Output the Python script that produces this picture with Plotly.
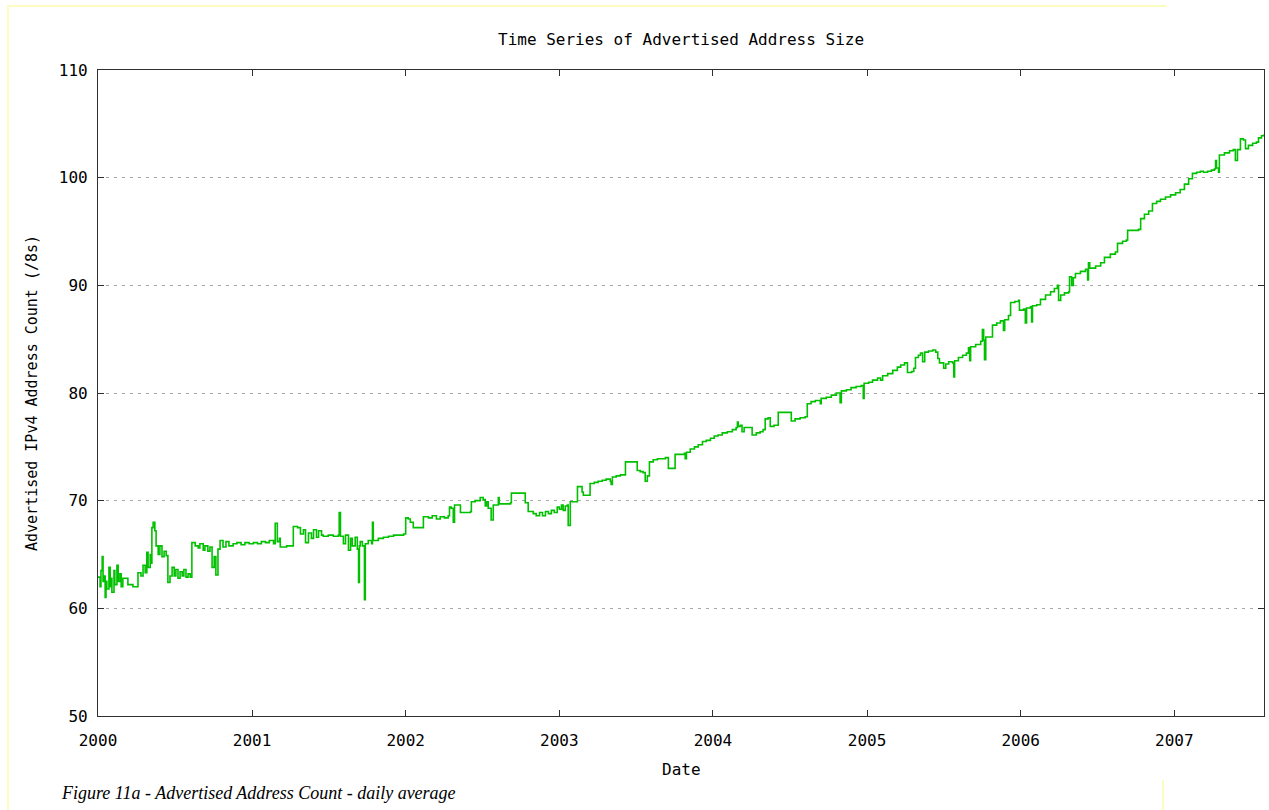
import plotly.graph_objects as go

# Daily average of advertised IPv4 address space, in units of /8 blocks
dates_2000 = ["2000-01-01", "2000-01-06", "2000-01-08", "2000-01-11", "2000-01-13", "2000-01-15",
              "2000-01-18", "2000-01-20", "2000-01-22", "2000-01-27", "2000-01-30", "2000-02-01",
              "2000-02-03", "2000-02-08", "2000-02-10", "2000-02-15", "2000-02-18", "2000-02-22",
              "2000-02-25", "2000-02-29", "2000-03-12", "2000-03-24", "2000-04-05", "2000-04-12",
              "2000-04-17", "2000-04-22", "2000-04-26", "2000-04-29", "2000-05-04", "2000-05-06",
              "2000-05-08", "2000-05-11", "2000-05-15", "2000-05-18", "2000-05-23", "2000-05-27",
              "2000-06-01", "2000-06-06", "2000-06-11", "2000-06-15", "2000-06-20", "2000-06-25",
              "2000-06-30", "2000-07-04", "2000-07-09", "2000-07-14", "2000-07-19", "2000-07-23",
              "2000-07-28", "2000-08-02", "2000-08-07", "2000-08-11", "2000-08-19", "2000-08-26",
              "2000-08-30", "2000-09-07", "2000-09-11", "2000-09-18", "2000-09-23", "2000-09-28",
              "2000-10-03", "2000-10-07", "2000-10-12", "2000-10-17", "2000-10-24", "2000-10-31",
              "2000-11-07", "2000-11-17", "2000-11-26", "2000-12-06", "2000-12-15", "2000-12-25"]
count_2000 = [62.9, 62.0, 63.5, 64.8, 62.5, 63.0,
              61.0, 62.5, 61.8, 63.8, 62.0, 62.8,
              61.5, 63.5, 62.2, 64.0, 62.5, 63.2,
              62.0, 62.8, 62.2, 62.0, 63.3, 63.0,
              64.0, 63.3, 65.2, 63.8, 65.0, 64.2,
              67.5, 68.0, 67.2, 65.8, 65.0, 65.8,
              64.8, 65.3, 64.9, 62.4, 63.0, 63.8,
              63.0, 63.6, 62.8, 63.4, 63.0, 63.6,
              62.9, 63.2, 62.9, 66.1, 65.8, 65.6,
              66.0, 65.4, 65.8, 65.3, 65.7, 63.8,
              64.8, 63.1, 65.5, 66.3, 65.7, 66.2,
              65.8, 66.0, 66.1, 65.9, 66.1, 66.0]

dates_2001 = ["2001-01-04", "2001-01-14", "2001-01-23", "2001-02-02", "2001-02-11", "2001-02-21",
              "2001-02-25", "2001-03-02", "2001-03-07", "2001-03-09", "2001-03-24", "2001-04-04",
              "2001-04-09", "2001-04-19", "2001-04-26", "2001-05-03", "2001-05-08", "2001-05-15",
              "2001-05-22", "2001-05-27", "2001-06-03", "2001-06-08", "2001-06-15", "2001-06-19",
              "2001-07-01", "2001-07-13", "2001-07-25", "2001-07-27", "2001-07-30", "2001-08-06",
              "2001-08-11", "2001-08-18", "2001-08-23", "2001-08-27", "2001-09-03", "2001-09-08",
              "2001-09-11", "2001-09-13", "2001-09-15", "2001-09-20", "2001-09-25", "2001-09-27",
              "2001-10-04", "2001-10-12", "2001-10-14", "2001-10-16", "2001-10-28", "2001-11-09",
              "2001-11-21", "2001-12-03", "2001-12-15", "2001-12-27"]
count_2001 = [66.1, 66.0, 66.2, 66.1, 66.3, 66.0,
              67.9, 66.2, 66.5, 65.7, 65.8, 65.8,
              67.6, 67.5, 66.9, 67.3, 66.1, 67.0,
              66.5, 67.3, 66.6, 67.2, 66.8, 66.7,
              66.8, 66.7, 66.8, 68.9, 66.7, 66.0,
              66.8, 65.4, 66.5, 65.8, 66.6, 65.5,
              62.4, 65.8, 66.2, 65.8, 60.8, 66.0,
              66.3, 66.0, 68.0, 66.3, 66.5, 66.6,
              66.7, 66.8, 66.8, 66.9]

dates_2002 = ["2002-01-01", "2002-01-07", "2002-01-12", "2002-01-19", "2002-01-26", "2002-02-05",
              "2002-02-12", "2002-02-24", "2002-03-05", "2002-03-15", "2002-03-24", "2002-04-03",
              "2002-04-12", "2002-04-15", "2002-04-19", "2002-04-24", "2002-04-27", "2002-05-06",
              "2002-05-11", "2002-05-23", "2002-06-04", "2002-06-06", "2002-06-15", "2002-06-27",
              "2002-07-04", "2002-07-09", "2002-07-12", "2002-07-16", "2002-07-23", "2002-07-28",
              "2002-08-09", "2002-08-11", "2002-08-23", "2002-09-07", "2002-09-09", "2002-09-21",
              "2002-10-03", "2002-10-12", "2002-10-19", "2002-10-31", "2002-11-07", "2002-11-15",
              "2002-11-22", "2002-11-29", "2002-12-06", "2002-12-13", "2002-12-20", "2002-12-27"]
count_2002 = [68.4, 68.3, 68.0, 67.5, 67.5, 67.5,
              68.5, 68.4, 68.6, 68.3, 68.5, 68.4,
              68.6, 69.4, 69.3, 68.0, 69.6, 69.6,
              68.9, 68.9, 69.0, 69.9, 70.0, 70.3,
              70.1, 69.5, 69.9, 69.3, 68.2, 69.6,
              70.3, 69.7, 69.7, 69.8, 70.7, 70.7,
              70.7, 69.8, 69.0, 68.8, 68.6, 68.9,
              68.6, 69.0, 68.8, 69.1, 68.9, 69.4]

dates_2003 = ["2003-01-01", "2003-01-06", "2003-01-10", "2003-01-15", "2003-01-20", "2003-01-22",
              "2003-01-27", "2003-02-03", "2003-02-13", "2003-02-20", "2003-02-24", "2003-02-27",
              "2003-03-11", "2003-03-15", "2003-03-25", "2003-04-03", "2003-04-13", "2003-04-22",
              "2003-05-02", "2003-05-04", "2003-05-07", "2003-05-16", "2003-05-26", "2003-06-02",
              "2003-06-07", "2003-06-16", "2003-06-26", "2003-07-05", "2003-07-12", "2003-07-19",
              "2003-07-24", "2003-07-29", "2003-08-03", "2003-08-12", "2003-08-22", "2003-08-31",
              "2003-09-10", "2003-09-17", "2003-09-26", "2003-10-03", "2003-10-15", "2003-10-25",
              "2003-10-27", "2003-10-30", "2003-11-08", "2003-11-18", "2003-11-27", "2003-12-07",
              "2003-12-16", "2003-12-26"]
count_2003 = [69.2, 69.6, 69.1, 69.5, 69.6, 67.7,
              69.9, 69.9, 71.3, 71.3, 70.8, 70.5,
              70.5, 71.6, 71.7, 71.8, 71.9, 72.0,
              71.8, 71.5, 72.2, 72.3, 72.4, 72.4,
              73.6, 73.6, 73.6, 72.8, 72.7, 72.6,
              71.8, 72.3, 73.6, 73.8, 73.9, 73.9,
              74.0, 73.0, 73.0, 74.3, 74.3, 74.4,
              73.9, 74.5, 74.8, 75.0, 75.2, 75.5,
              75.6, 75.8]

dates_2004 = ["2004-01-04", "2004-01-13", "2004-01-23", "2004-02-04", "2004-02-16", "2004-02-25",
              "2004-02-28", "2004-03-01", "2004-03-06", "2004-03-10", "2004-03-15", "2004-03-27",
              "2004-04-03", "2004-04-13", "2004-04-22", "2004-04-29", "2004-05-04", "2004-05-11",
              "2004-05-16", "2004-05-25", "2004-06-02", "2004-06-04", "2004-06-16", "2004-06-28",
              "2004-07-05", "2004-07-14", "2004-07-26", "2004-08-07", "2004-08-12", "2004-08-21",
              "2004-08-31", "2004-09-09", "2004-09-12", "2004-09-14", "2004-09-26", "2004-10-08",
              "2004-10-20", "2004-10-29", "2004-11-01", "2004-11-13", "2004-11-24", "2004-12-06",
              "2004-12-18", "2004-12-23", "2004-12-25"]
count_2004 = [76.0, 76.1, 76.3, 76.4, 76.6, 76.8,
              77.3, 76.9, 77.0, 76.4, 76.8, 76.8,
              76.1, 76.3, 76.4, 76.6, 77.6, 77.7,
              76.9, 77.0, 77.0, 78.2, 78.2, 78.2,
              77.4, 77.6, 77.7, 77.8, 79.0, 79.2,
              79.3, 79.3, 79.0, 79.5, 79.6, 79.8,
              80.0, 79.1, 80.2, 80.3, 80.5, 80.6,
              80.7, 79.5, 80.9]

dates_2005 = ["2005-01-05", "2005-01-14", "2005-01-26", "2005-02-02", "2005-02-07", "2005-02-19",
              "2005-03-03", "2005-03-14", "2005-03-22", "2005-03-31", "2005-04-07", "2005-04-17",
              "2005-04-22", "2005-04-26", "2005-05-03", "2005-05-08", "2005-05-13", "2005-05-18",
              "2005-05-27", "2005-06-06", "2005-06-13", "2005-06-18", "2005-06-22", "2005-07-02",
              "2005-07-07", "2005-07-14", "2005-07-23", "2005-07-26", "2005-07-28", "2005-08-06",
              "2005-08-16", "2005-08-25", "2005-08-30", "2005-09-02", "2005-09-04", "2005-09-16",
              "2005-09-28", "2005-10-02", "2005-10-05", "2005-10-07", "2005-10-10", "2005-10-21",
              "2005-10-26", "2005-11-05", "2005-11-14", "2005-11-21", "2005-11-24", "2005-12-03",
              "2005-12-08", "2005-12-18", "2005-12-27", "2005-12-29"]
count_2005 = [81.0, 81.2, 81.4, 81.2, 81.6, 81.8,
              82.1, 82.4, 82.6, 82.8, 81.9, 82.0,
              82.3, 83.3, 83.5, 83.7, 82.9, 83.8,
              83.9, 84.0, 83.8, 83.2, 82.8, 82.3,
              82.7, 82.9, 82.8, 81.5, 83.0, 83.3,
              83.5, 83.7, 84.2, 83.0, 84.3, 84.5,
              84.8, 85.9, 84.9, 83.1, 85.2, 85.2,
              86.3, 86.5, 86.7, 85.8, 86.8, 87.2,
              88.4, 88.5, 88.6, 87.7]

dates_2006 = ["2006-01-08", "2006-01-12", "2006-01-15", "2006-01-24", "2006-01-27", "2006-01-29",
              "2006-02-08", "2006-02-17", "2006-03-01", "2006-03-13", "2006-03-22", "2006-03-29",
              "2006-04-01", "2006-04-06", "2006-04-15", "2006-04-25", "2006-04-27", "2006-05-02",
              "2006-05-06", "2006-05-11", "2006-05-23", "2006-06-04", "2006-06-09", "2006-06-11",
              "2006-06-14", "2006-06-28", "2006-07-10", "2006-07-19", "2006-08-02", "2006-08-14",
              "2006-08-19", "2006-08-31", "2006-09-09", "2006-09-12", "2006-09-26", "2006-10-08",
              "2006-10-13", "2006-10-22", "2006-11-01", "2006-11-10", "2006-11-20", "2006-11-29",
              "2006-12-11", "2006-12-23"]
count_2006 = [87.8, 86.5, 87.9, 88.0, 86.6, 88.1,
              88.2, 88.7, 89.1, 89.4, 89.7, 90.0,
              88.6, 89.1, 89.3, 89.4, 90.8, 90.0,
              90.7, 91.1, 91.3, 91.5, 90.5, 92.1,
              91.6, 91.8, 92.1, 92.6, 92.9, 93.1,
              93.9, 94.1, 94.2, 95.1, 95.1, 95.2,
              96.2, 96.6, 96.9, 97.6, 97.8, 98.0,
              98.2, 98.4]

dates_2007 = ["2007-01-04", "2007-01-15", "2007-01-25", "2007-02-04", "2007-02-13", "2007-02-23",
              "2007-03-04", "2007-03-11", "2007-03-21", "2007-03-30", "2007-04-06", "2007-04-09",
              "2007-04-11", "2007-04-16", "2007-04-18", "2007-04-30", "2007-05-12", "2007-05-21",
              "2007-05-26", "2007-05-31", "2007-06-07", "2007-06-14", "2007-06-19", "2007-06-26",
              "2007-07-06", "2007-07-15", "2007-07-20", "2007-07-27", "2007-08-01"]
count_2007 = [98.6, 98.9, 99.4, 99.9, 100.4, 100.5,
              100.6, 100.5, 100.6, 100.7, 100.8, 101.6,
              100.9, 100.5, 102.1, 102.3, 102.5, 102.6,
              101.6, 102.6, 103.6, 103.5, 102.7, 103.0,
              103.2, 103.3, 103.7, 103.9, 104.0]

year_ticks = ["2000-01-01", "2001-01-01", "2002-01-01", "2003-01-01",
              "2004-01-01", "2005-01-01", "2006-01-01", "2007-01-01"]
year_labels = ["2000", "2001", "2002", "2003", "2004", "2005", "2006", "2007"]
count_ticks = [50, 60, 70, 80, 90, 100, 110]

dates = (dates_2000 + dates_2001 + dates_2002 + dates_2003 +
         dates_2004 + dates_2005 + dates_2006 + dates_2007)
counts = (count_2000 + count_2001 + count_2002 + count_2003 +
          count_2004 + count_2005 + count_2006 + count_2007)

MONO = "DejaVu Sans Mono"
FS = 16
AXIS = "#303030"

fig = go.Figure()
fig.add_trace(go.Scatter(
    x=dates, y=counts, mode="lines",
    line=dict(color="#00c000", width=1.6, shape="hv"),
    showlegend=False,
))

fig.update_layout(
    width=1269, height=810,
    margin=dict(l=98, r=5, t=70, b=94),
    paper_bgcolor="white", plot_bgcolor="white",
    font=dict(family=MONO, size=FS, color="black"),
    xaxis=dict(
        type="date", range=["2000-01-01", "2007-08-02"],
        tickvals=year_ticks, ticktext=year_labels,
        showgrid=False, zeroline=False,
        showline=True, linecolor=AXIS, linewidth=1.2, mirror="ticks",
        ticks="inside", ticklen=6, tickwidth=1.2, tickcolor=AXIS,
        ticklabelstandoff=10,
        tickfont=dict(family=MONO, size=FS, color="black"),
    ),
    yaxis=dict(
        range=[50, 110], tickvals=count_ticks,
        showgrid=True, gridcolor="#a8a8a8", gridwidth=1, griddash="3px,5px",
        zeroline=False,
        showline=True, linecolor=AXIS, linewidth=1.2, mirror="ticks",
        ticks="inside", ticklen=6, tickwidth=1.2, tickcolor=AXIS,
        ticklabelstandoff=6,
        tickfont=dict(family=MONO, size=FS, color="black"),
    ),
)

# Page frame lines and text
PW, PH = 1166.0, 646.0  # plot area size in pixels


def px_x(px):
    return (px - 98) / PW


def px_y(py):
    return (716 - py) / PH


frame = "#fcfcc0"
fig.add_shape(type="line", xref="paper", yref="paper",
              x0=px_x(7), x1=px_x(1166), y0=px_y(6), y1=px_y(6),
              line=dict(color=frame, width=2))
fig.add_shape(type="line", xref="paper", yref="paper",
              x0=px_x(8), x1=px_x(8), y0=px_y(6), y1=px_y(812),
              line=dict(color=frame, width=2))
fig.add_shape(type="line", xref="paper", yref="paper",
              x0=px_x(1163), x1=px_x(1163), y0=px_y(780), y1=px_y(812),
              line=dict(color=frame, width=2))

fig.add_annotation(text="Time Series of Advertised Address Size",
                   xref="paper", yref="paper", x=0.5, y=px_y(40),
                   xanchor="center", yanchor="middle", showarrow=False,
                   font=dict(family=MONO, size=FS, color="black"))
fig.add_annotation(text="Date",
                   xref="paper", yref="paper", x=0.5, y=px_y(769),
                   xanchor="center", yanchor="middle", showarrow=False,
                   font=dict(family=MONO, size=FS, color="black"))
fig.add_annotation(text="Advertised IPv4 Address Count (/8s)",
                   xref="paper", yref="paper", x=px_x(32), y=0.5,
                   xanchor="center", yanchor="middle", textangle=-90, showarrow=False,
                   font=dict(family=MONO, size=15, color="black"))
fig.add_annotation(text="<i>Figure 11a - Advertised Address Count - daily average</i>",
                   xref="paper", yref="paper", x=px_x(59), y=px_y(793),
                   xanchor="left", yanchor="middle", showarrow=False,
                   font=dict(family="Liberation Serif", size=18, color="black"))

fig.write_html("out.html")
